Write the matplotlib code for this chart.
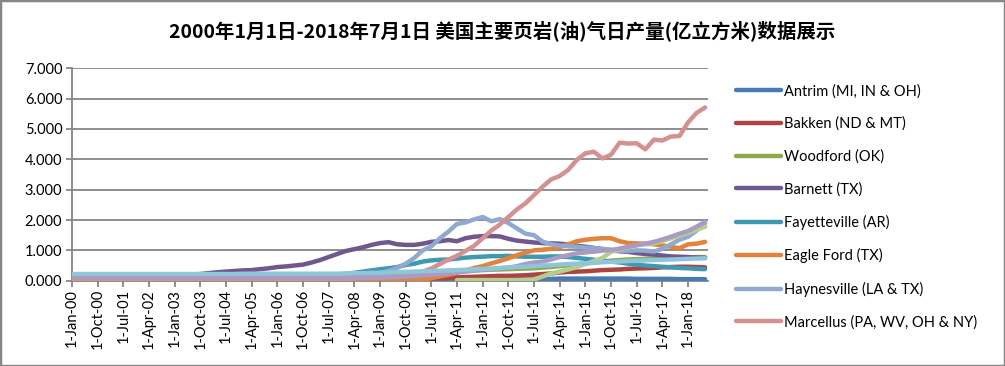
"""
美国主要页岩(油)气日产量 折线图 (2000-01 ~ 2018-07)
"""
import numpy as np
import pandas as pd
import matplotlib
matplotlib.use('Agg')
import matplotlib.pyplot as plt
from matplotlib.patches import Rectangle

plt.rcParams['font.family'] = ['Lato', 'Noto Sans CJK SC', 'DejaVu Sans']
plt.rcParams['axes.unicode_minus'] = False

# 分季度读数 (亿立方米/日), 2000-01 ... 2018-07
dates = pd.date_range('2000-01-01', '2018-07-01', freq='QS')
nan = np.nan

antrim = [
    .09, .09, .09, .09, .09, .09, .09, .09, .09, .09, .08, .08,
    .08, .08, .08, .08, .08, .08, .08, .08, .08, .08, .08, .08,
    .08, .08, .08, .08, .08, .08, .08, .08, .08, .08, .08, .07,
    .07, .07, .07, .07, .07, .07, .07, .07, .07, .07, .07, .07,
    .06, .06, .06, .06, .06, .06, .06, .06, .06, .07, .07, .07,
    .07, .07, .07, .07, .07, .07, .06, .06, .06, .06, .06, .05,
    .05, .05, .05]
bakken = [
    .01, .01, .01, .01, .01, .01, .01, .01, .01, .01, .01, .01,
    .01, .01, .01, .01, .01, .01, .01, .01, .01, .01, .01, .01,
    .01, .01, .01, .01, .01, .01, .01, .01, .01, .01, .02, .02,
    .02, .03, .03, .04, .05, .06, .07, .08, .09, .11, .12, .13,
    .14, .15, .16, .16, .17, .18, .20, .22, .24, .27, .29, .30,
    .31, .33, .35, .36, .37, .39, .40, .41, .42, .44, .45, .46,
    .46, .45, .44]
woodford = [
    0, 0, 0, 0, 0, 0, 0, 0, 0, 0, 0, 0,
    0, 0, 0, 0, 0, 0, 0, 0, 0, .01, .02, .03,
    .04, .05, .07, .09, .11, .13, .15, .17, .19, .20, .21, .22,
    .23, .24, .25, .26, .27, .28, .29, .30, .31, .32, .33, .34,
    .35, .36, .37, .38, .39, .40, .41, .43, .45, .48, .51, .54,
    .57, .60, .63, .66, .68, .70, .71, .72, .73, .74, .75, .76,
    .77, .78, .78]
barnett = [
    .10, .10, .11, .11, .12, .12, .13, .13, .14, .14, .15, .15,
    .17, .18, .20, .22, .25, .28, .30, .32, .34, .35, .38, .41,
    .45, .47, .50, .53, .60, .68, .78, .88, .98, 1.04, 1.10, 1.18,
    1.24, 1.27, 1.20, 1.18, 1.18, 1.22, 1.28, 1.30, 1.34, 1.30, 1.40, 1.45,
    1.47, 1.47, 1.46, 1.38, 1.32, 1.29, 1.26, 1.24, 1.23, 1.22, 1.19, 1.15,
    1.12, 1.08, 1.04, 1.00, .97, .95, .91, .88, .86, .83, .80, .79,
    .78, .76, .75]
fayetteville = [
    0, 0, 0, 0, 0, 0, 0, 0, 0, 0, 0, 0,
    0, 0, 0, 0, 0, 0, 0, 0, 0, 0, 0, 0,
    .02, .04, .06, .08, .10, .13, .16, .20, .22, .26, .30, .34,
    .38, .41, .45, .52, .56, .63, .67, .69, .70, .73, .76, .78,
    .79, .81, .81, .82, .80, .79, .79, .79, .80, .80, .78, .75,
    .72, .69, .66, .63, .60, .56, .53, .50, .48, .46, .44, .42,
    .41, .39, .38]
eagle_ford = [
    0, 0, 0, 0, 0, 0, 0, 0, 0, 0, 0, 0,
    0, 0, 0, 0, 0, 0, 0, 0, 0, 0, 0, 0,
    0, 0, 0, 0, 0, 0, 0, 0, 0, 0, 0, 0,
    0, 0, .01, .01, .02, .04, .08, .14, .19, .26, .33, .42,
    .48, .57, .65, .74, .84, .93, 1.00, 1.02, 1.05, 1.10, 1.20, 1.30,
    1.35, 1.38, 1.40, 1.40, 1.30, 1.24, 1.23, 1.22, 1.20, 1.16, 1.12, 1.07,
    1.20, 1.22, 1.28]
haynesville = [
    .03, .03, .03, .03, .03, .03, .03, .03, .03, .03, .03, .03,
    .03, .03, .03, .03, .03, .03, .03, .03, .03, .03, .03, .03,
    .03, .03, .03, .03, .03, .03, .04, .04, .05, .08, .12, .18,
    .26, .32, .42, .56, .75, 1.00, 1.13, 1.40, 1.62, 1.87, 1.92, 2.02,
    2.10, 1.96, 2.03, 1.90, 1.72, 1.55, 1.50, 1.29, 1.20, 1.16, 1.13, 1.12,
    1.09, 1.08, 1.05, 1.02, .98, .98, 1.00, .99, .96, 1.05, 1.20, 1.35,
    1.45, 1.65, 1.89]
marcellus = [
    .05, .05, .05, .05, .05, .05, .05, .05, .05, .05, .05, .05,
    .05, .05, .05, .05, .05, .05, .05, .05, .05, .05, .05, .05,
    .05, .05, .05, .05, .05, .05, .05, .05, .06, .07, .08, .09,
    .10, .11, .12, .14, .20, .30, .40, .55, .70, .82, .98, 1.15,
    1.40, 1.65, 1.85, 2.10, 2.35, 2.55, 2.82, 3.10, 3.34, 3.45, 3.65, 3.98,
    4.20, 4.25, 4.03, 4.15, 4.55, 4.52, 4.53, 4.33, 4.65, 4.62, 4.75, 4.77,
    5.22, 5.53, 5.71]
utica = [
    nan, nan, nan, nan, nan, nan, nan, nan, nan, nan, nan, nan,
    nan, nan, nan, nan, nan, nan, nan, nan, nan, nan, nan, nan,
    nan, nan, nan, nan, nan, nan, nan, nan, nan, nan, nan, nan,
    nan, nan, nan, nan, nan, nan, nan, nan, nan, .02, .02, .02,
    .02, .02, .02, .02, .02, .03, .04, .14, .24, .30, .37, .45,
    .55, .65, .75, .95, 1.03, 1.10, 1.17, 1.20, 1.23, 1.30, 1.40, 1.48,
    1.57, 1.68, 1.78]
permian = [
    .12, .12, .12, .12, .12, .12, .12, .12, .12, .12, .12, .12,
    .12, .12, .12, .12, .12, .12, .12, .12, .12, .12, .12, .12,
    .12, .12, .12, .12, .12, .12, .12, .12, .12, .12, .12, .12,
    .12, .12, .13, .14, .15, .17, .19, .21, .24, .27, .30, .33,
    .36, .38, .40, .43, .48, .55, .60, .63, .70, .78, .84, .90,
    .93, .96, .99, 1.01, 1.06, 1.12, 1.17, 1.22, 1.28, 1.36, 1.45, 1.55,
    1.64, 1.78, 1.94]
rest_of_us = [
    .22, .22, .22, .22, .22, .22, .22, .22, .22, .22, .22, .22,
    .22, .22, .22, .22, .22, .22, .22, .22, .23, .23, .23, .23,
    .23, .23, .23, .23, .23, .23, .23, .23, .24, .25, .25, .26,
    .26, .27, .28, .29, .30, .31, .32, .33, .34, .35, .36, .38,
    .39, .40, .42, .44, .45, .46, .48, .50, .51, .53, .55, .56,
    .57, .59, .61, .62, .63, .65, .66, .67, .68, .69, .70, .71,
    .72, .73, .74]

series = [
    ('Antrim (MI, IN & OH)', antrim, '#4A7AB5'),
    ('Bakken (ND & MT)', bakken, '#AC4542'),
    ('Woodford (OK)', woodford, '#8DAB4C'),
    ('Barnett (TX)', barnett, '#71578F'),
    ('Fayetteville (AR)', fayetteville, '#3F9AB1'),
    ('Eagle Ford (TX)', eagle_ford, '#E3823A'),
    ('Haynesville (LA & TX)', haynesville, '#8FA9D1'),
    ('Marcellus (PA, WV, OH & NY)', marcellus, '#D49190'),
    ('Utica (OH, PA & WV)', utica, '#B7CD8E'),
    ('Permian (TX & NM)', permian, '#A99BC3'),
    ('Rest of US', rest_of_us, '#8EC5D9'),
]
n_legend = 8

grey = '#868686'

fig = plt.figure(figsize=(10.05, 3.66), dpi=100)
ax = fig.add_axes([72 / 1005, 1 - 280.7 / 366, 636 / 1005, 212.4 / 366])

handles = []
for name, vals, color in series:
    line, = ax.plot(dates, vals, color=color, lw=3.2, solid_capstyle='round',
                    solid_joinstyle='round', label=name, zorder=3)
    handles.append(line)

ax.set_ylim(0, 7)
ax.set_yticks(np.arange(0, 8, 1))
ax.set_yticklabels([f'{v:.3f}' for v in range(8)])
ax.set_xlim(pd.Timestamp('2000-01-01'), pd.Timestamp('2018-08-01'))

ticks = pd.date_range('2000-01-01', '2018-07-01', freq='9MS')
ax.set_xticks(ticks)
ax.set_xticklabels([f"{d.day}-{d.strftime('%b-%y')}" for d in ticks],
                   rotation=90, va='top', ha='center')

ax.grid(axis='y', color=grey, lw=1.3, zorder=0)
ax.set_axisbelow(True)
for s in ['top', 'right']:
    ax.spines[s].set_visible(False)
for s in ['left', 'bottom']:
    ax.spines[s].set_color(grey)
    ax.spines[s].set_linewidth(1.3)
ax.tick_params(axis='both', colors=grey, labelcolor='black', labelsize=10.5,
               length=4, width=1.3, direction='out')
ax.tick_params(axis='x', pad=2)
ax.tick_params(axis='y', pad=3)

fig.text(0.5, 1 - 31 / 366, '2000年1月1日-2018年7月1日 美国主要页岩(油)气日产量(亿立方米)数据展示',
         ha='center', va='center', fontsize=14, fontweight='bold',
         family=['Noto Sans CJK SC', 'DejaVu Sans'])

fig.legend(handles[:n_legend], [s[0] for s in series[:n_legend]],
           loc='upper left', bbox_to_anchor=(736 / 1005, 1 - 84 / 366),
           frameon=False, fontsize=10.5, handlelength=3.1, handletextpad=0.2,
           labelspacing=1.26, borderpad=0, borderaxespad=0)

fig.add_artist(Rectangle((0, 0), 1, 1, transform=fig.transFigure, fill=False,
                         edgecolor=grey, lw=2.5))

fig.savefig('out.png', dpi=100)
